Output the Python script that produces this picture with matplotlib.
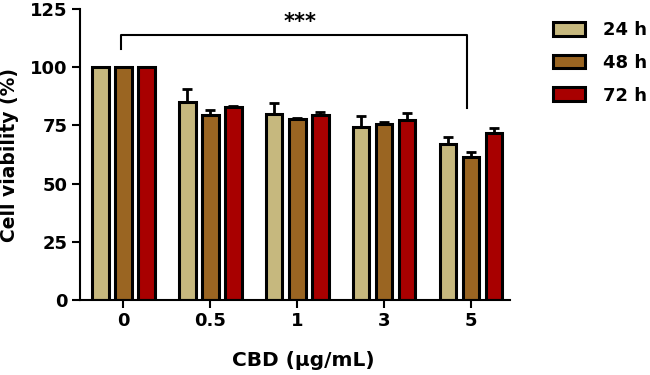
import numpy as np
import matplotlib
matplotlib.use("Agg")
import matplotlib.pyplot as plt
from matplotlib.patches import Patch

plt.rcParams['font.family'] = ['DejaVu Sans']
plt.rcParams['font.weight'] = 'bold'

# === Data ===
doses = ["0", "0.5", "1", "3", "5"]
series = ["24 h", "48 h", "72 h"]
v24 = [100, 85.1, 79.8, 74.4, 66.8]
v48 = [100, 79.4, 77.8, 75.8, 61.5]
v72 = [100, 82.7, 79.4, 77.5, 71.8]
e24 = [0, 5.5, 4.7, 4.6, 3.2]
e48 = [0, 2.4, 0.5, 0.6, 2.2]
e72 = [0, 0.8, 1.4, 2.9, 1.9]
colors = ["#C6B87E", "#9A6522", "#A80000"]

fig = plt.figure(figsize=(6.5, 3.75), dpi=100)
ax = fig.add_axes([0.123, 0.2, 0.662, 0.776])

x = np.arange(len(doses))
width = 0.19
step = 0.265
for k, (vals, errs) in enumerate(zip([v24, v48, v72], [e24, e48, e72])):
    pos = x + (k - 1) * step
    ax.bar(pos, vals, width=width, color=colors[k], edgecolor='black',
           linewidth=2.2, zorder=2)
    ax.errorbar(pos, vals, yerr=[np.zeros(len(errs)), errs], fmt='none',
                ecolor='black', elinewidth=2, capsize=3.5, capthick=2, zorder=1)

# significance bracket between 0 and 5 ug/mL
ax.plot([-0.03, -0.03, 3.95, 3.95], [108, 114, 114, 82.5], color='black',
        lw=1.5, clip_on=False)
ax.text(2.03, 119.3, "***", ha='center', va='center', fontsize=15, fontweight='bold')

ax.set_xlim(-0.5, 4.45)
ax.set_ylim(0, 125)
ax.set_yticks([0, 25, 50, 75, 100, 125])
ax.set_xticks(x)
ax.set_xticklabels(doses)
ax.tick_params(axis='both', labelsize=13, width=1.5, length=6, pad=3)
for lbl in ax.get_xticklabels() + ax.get_yticklabels():
    lbl.set_fontweight('bold')
ax.spines['top'].set_visible(False)
ax.spines['right'].set_visible(False)
ax.spines['left'].set_linewidth(1.5)
ax.spines['bottom'].set_linewidth(1.5)
ax.set_xlabel("CBD (μg/mL)", fontsize=14.5, fontweight='bold')
ax.xaxis.set_label_coords(0.52, -0.175)
ax.set_ylabel("Cell viability (%)", fontsize=13.5, fontweight='bold', labelpad=8)

handles = [Patch(facecolor=c, edgecolor='black', linewidth=2.2) for c in colors]
fig.legend(handles, series, loc='upper left', bbox_to_anchor=(553 / 650, 1 - 21 / 375),
           frameon=False, prop={'size': 13, 'weight': 'bold'}, borderpad=0,
           borderaxespad=0, handlelength=1.75, handleheight=0.8,
           labelspacing=0.82, handletextpad=1.0)

fig.savefig("out.png", dpi=100)
